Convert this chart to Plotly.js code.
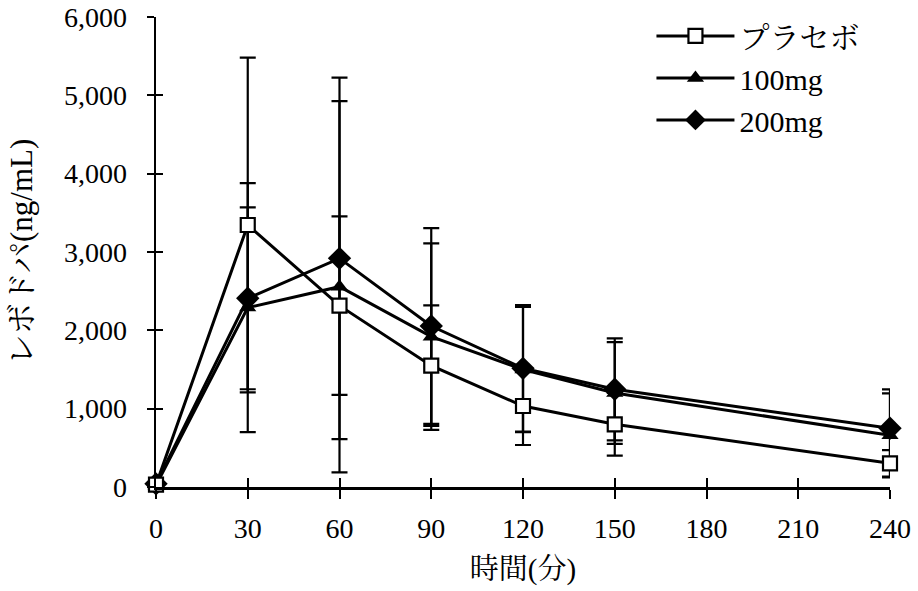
<!DOCTYPE html>
<html>
<head>
<meta charset="utf-8">
<script src="https://cdn.plot.ly/plotly-3.0.1.min.js"></script>
<style>html,body{margin:0;padding:0;background:#fff;}#chart{width:918px;height:591px;}</style>
</head>
<body>
<div id="chart"></div>
<script>
const timeMin = [0, 30, 60, 90, 120, 150, 240];
const placebo = [30, 3345, 2315, 1549, 1034, 800, 302];
const placeboSD = [0, 2136, 1140, 770, 498, 400, 170];
const mg100 = [20, 2290, 2557, 1919, 1500, 1200, 660];
const mg100SD = [0, 1590, 2370, 1190, 800, 650, 536];
const mg200 = [40, 2409, 2919, 2055, 1515, 1247, 750];
const mg200SD = [0, 1161, 2307, 1250, 808, 651, 497];
const seriesNames = ['プラセボ', '100mg', '200mg'];
const xTicks = [0, 30, 60, 90, 120, 150, 180, 210, 240];
const yTicks = [0, 1000, 2000, 3000, 4000, 5000, 6000];

const FONT = 'Liberation Serif, "Noto Serif CJK JP", "Noto Sans CJK JP", serif';
function err(sd){return {type:'data', array: sd, visible:true, color:'#000', thickness:2.2, width:8};}

const traces = [
  {x: timeMin, y: mg200, name: seriesNames[2], legendrank: 3, mode:'lines+markers',
   line:{color:'#000', width:3}, marker:{symbol:'diamond', size:18, color:'#000'},
   error_y: err(mg200SD), cliponaxis:false},
  {x: timeMin, y: mg100, name: seriesNames[1], legendrank: 2, mode:'lines+markers',
   line:{color:'#000', width:3}, marker:{symbol:'triangle-up', size:15, color:'#000'},
   error_y: err(mg100SD), cliponaxis:false},
  {x: timeMin, y: placebo, name: seriesNames[0], legendrank: 1, mode:'lines+markers',
   line:{color:'#000', width:3}, marker:{symbol:'square', size:14, color:'#fff', line:{color:'#000', width:2.2}},
   error_y: err(placeboSD), cliponaxis:false},
  {x: timeMin, y: placebo, xaxis:'x2', yaxis:'y2', mode:'markers', marker:{opacity:0},
   showlegend:false, hoverinfo:'skip'}
];

const layout = {
  width: 918, height: 591,
  margin: {l:156, r:28, t:17, b:104, autoexpand:false},
  paper_bgcolor:'#fff', plot_bgcolor:'#fff',
  font: {family: FONT, size: 28, color:'#000'},
  showlegend: true,
  legend: {x:0.675, y:1.015, xanchor:'left', yanchor:'top', bgcolor:'rgba(0,0,0,0)',
           font:{family: FONT, size:30, color:'#000'}, tracegroupgap:0, itemwidth:78},
  xaxis: {range:[0,240], tickvals:xTicks, ticktext:xTicks.map(String), ticks:'outside', ticklen:9,
          tickwidth:2, tickcolor:'#000', showline:true, linewidth:2.5, linecolor:'#000',
          showgrid:false, zeroline:false, ticklabelstandoff:6,
          tickfont:{family: FONT, size:28},
          title:{text:'時間(分)', font:{family: FONT, size:29}, standoff:16}},
  yaxis: {range:[0,6000], tickvals:yTicks, tickformat:',', ticks:'outside', ticklen:7,
          tickwidth:2, tickcolor:'#000', showline:true, linewidth:2.5, linecolor:'#000',
          showgrid:false, zeroline:false, ticklabelstandoff:14,
          tickfont:{family: FONT, size:28},
          title:{text:'レボドパ(ng/mL)', font:{family: FONT, size:31}, standoff:22}},
  xaxis2: {overlaying:'x', range:[0,240], tickvals:xTicks, ticks:'inside', ticklen:9, tickwidth:2,
           tickcolor:'#000', showticklabels:false, showgrid:false, zeroline:false, showline:false},
  yaxis2: {overlaying:'y', range:[0,6000], tickvals:yTicks, ticks:'inside', ticklen:7, tickwidth:2,
           tickcolor:'#000', showticklabels:false, showgrid:false, zeroline:false, showline:false}
};

Plotly.newPlot('chart', traces, layout, {staticPlot:true, displayModeBar:false});
</script>
</body>
</html>
